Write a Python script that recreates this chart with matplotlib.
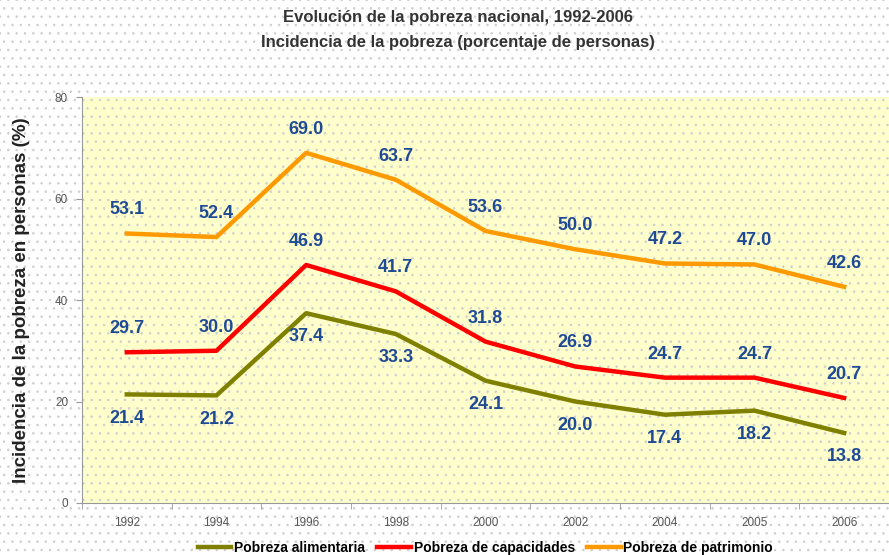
import matplotlib.pyplot as plt

# datos: evolucion de la pobreza nacional 1992-2006
years = ["1992", "1994", "1996", "1998", "2000", "2002", "2004", "2005", "2006"]
alimentaria = [21.4, 21.2, 37.4, 33.3, 24.1, 20.0, 17.4, 18.2, 13.8]
capacidades = [29.7, 30.0, 46.9, 41.7, 31.8, 26.9, 24.7, 24.7, 20.7]
patrimonio = [53.1, 52.4, 69.0, 63.7, 53.6, 50.0, 47.2, 47.0, 42.6]

plt.rcParams['font.family'] = ['Liberation Sans', 'DejaVu Sans']
plt.rcParams['hatch.linewidth'] = 0.6

fig = plt.figure(figsize=(8.89, 5.55), dpi=100)
# fondo punteado
fig.patch.set_facecolor('white')
fig.patch.set_hatch('..')
fig.patch.set_edgecolor('#cfcfcf')
fig.patch.set_linewidth(0)

ax = fig.add_axes([0.0922, 0.0937, 0.9078, 0.7315])
ax.patch.set_facecolor('#ffffcc')
ax.patch.set_hatch('..')
ax.patch.set_edgecolor('#cfcfcf')

x = list(range(len(years)))
ax.plot(x, alimentaria, color='#808000', lw=3.2, label='Pobreza alimentaria', zorder=3)
ax.plot(x, capacidades, color='#ff0000', lw=3.2, label='Pobreza de capacidades', zorder=3)
ax.plot(x, patrimonio, color='#ff9900', lw=3.2, label='Pobreza de patrimonio', zorder=3)

# etiquetas de valores
lab_color = '#1f4a96'
for series, dy in [(patrimonio, 17), (capacidades, 17), (alimentaria, -17)]:
    for xi, v in zip(x, series):
        ax.annotate(f"{v:.1f}", (xi, v), xytext=(0, dy), textcoords='offset points',
                    ha='center', va='center', fontsize=13, fontweight='bold',
                    color=lab_color, zorder=4)

ax.set_xlim(-0.5, 8.41)
ax.set_ylim(0, 80)
ax.set_yticks([0, 20, 40, 60, 80])
ax.set_xticks(x)
ax.set_xticklabels(years)
ax.set_xticks([i + 0.5 for i in range(-1, 9)], minor=True)
ax.tick_params(axis='x', which='major', length=0, labelsize=8.5, labelcolor='#555555', pad=10)
ax.tick_params(axis='x', which='minor', length=4, color='#999999', direction='out')
ax.tick_params(axis='y', length=4, color='#999999', labelsize=8.5, labelcolor='#555555', pad=6)

for s in ['top', 'right']:
    ax.spines[s].set_visible(False)
ax.spines['left'].set_color('#999999')
ax.spines['bottom'].set_color('#999999')

ax.set_ylabel("Incidencia de la pobreza en personas (%)", fontsize=13.5,
              fontweight='bold', color='#222222', labelpad=18)

fig.text(0.515, 0.968, "Evolución de la pobreza nacional, 1992-2006", ha='center', va='center',
         fontsize=12, fontweight='bold', color='#333333')
fig.text(0.515, 0.924, "Incidencia de la pobreza (porcentaje de personas)", ha='center', va='center',
         fontsize=12, fontweight='bold', color='#333333')

leg = fig.legend(loc='center', bbox_to_anchor=(0.546, 0.012), ncol=3, frameon=False,
                 handlelength=2.4, handletextpad=0.2, columnspacing=0.9,
                 prop={'weight': 'bold', 'size': 10})

plt.savefig('out.png', dpi=100)
